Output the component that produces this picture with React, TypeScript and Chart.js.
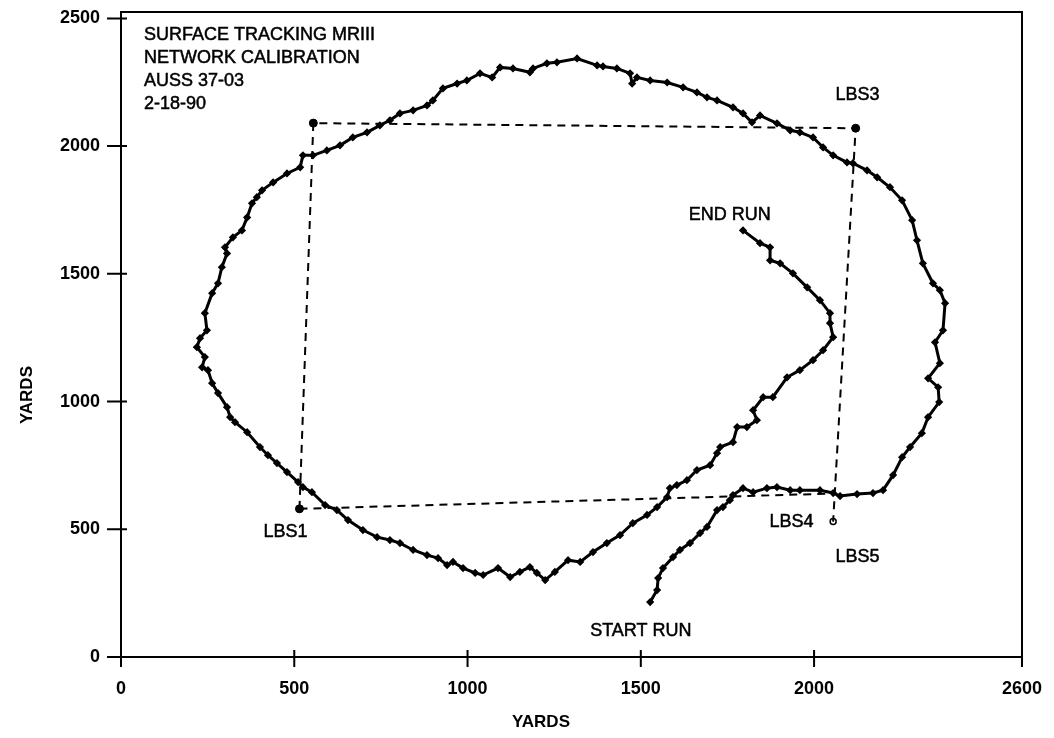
import React, { useEffect, useRef } from "react";
import { Chart, registerables } from "chart.js";

Chart.register(...registerables);

// Tracked vessel path (yards), from START RUN to END RUN
const trackX = [1527, 1547, 1550, 1564, 1593, 1613, 1642, 1671, 1691, 1720, 1737, 1757, 1766, 1795, 1824, 1864, 1893, 1931, 1959, 2017, 2055, 2075, 2124, 2170, 2199, 2228, 2254, 2277, 2311, 2329, 2361, 2358, 2329, 2363, 2349, 2372, 2378, 2363, 2343, 2314, 2297, 2283, 2254, 2219, 2182, 2153, 2112, 2095, 2055, 2026, 1997, 1959, 1931, 1893, 1844, 1821, 1795, 1766, 1720, 1691, 1662, 1622, 1576, 1527, 1489, 1475, 1469, 1431, 1391, 1374, 1316, 1258, 1229, 1189, 1180, 1131, 1094, 1071, 1036, 998, 970, 929, 900, 883, 843, 805, 776, 747, 710, 669, 632, 594, 554, 525, 517, 479, 439, 407, 392, 378, 364, 349, 323, 300, 306, 291, 280, 263, 242, 248, 228, 219, 242, 234, 251, 263, 280, 306, 315, 329, 364, 401, 424, 450, 479, 511, 525, 551, 589, 623, 655, 698, 739, 776, 805, 843, 883, 915, 941, 958, 987, 1022, 1045, 1088, 1123, 1151, 1180, 1200, 1224, 1252, 1290, 1325, 1362, 1402, 1440, 1477, 1518, 1547, 1576, 1584, 1604, 1633, 1662, 1700, 1720, 1729, 1766, 1778, 1806, 1835, 1824, 1853, 1881, 1922, 1959, 1997, 2026, 2055, 2046, 2046, 2017, 1980, 1939, 1902, 1873, 1873, 1844, 1795];
const trackY = [215, 262, 309, 348, 391, 419, 446, 485, 509, 575, 587, 614, 634, 661, 645, 661, 665, 653, 653, 653, 642, 630, 638, 642, 653, 712, 782, 822, 876, 939, 998, 1056, 1091, 1150, 1232, 1279, 1385, 1436, 1463, 1541, 1631, 1710, 1788, 1839, 1878, 1905, 1933, 1936, 1964, 1995, 2034, 2054, 2062, 2089, 2120, 2093, 2128, 2152, 2179, 2191, 2210, 2230, 2249, 2257, 2269, 2245, 2285, 2304, 2312, 2316, 2343, 2328, 2324, 2304, 2289, 2304, 2308, 2269, 2285, 2257, 2245, 2226, 2179, 2159, 2140, 2128, 2101, 2081, 2054, 2034, 2003, 1983, 1964, 1964, 1917, 1893, 1858, 1827, 1800, 1776, 1721, 1670, 1643, 1604, 1580, 1526, 1463, 1424, 1346, 1279, 1248, 1213, 1174, 1134, 1123, 1072, 1033, 978, 939, 919, 880, 822, 790, 759, 724, 685, 665, 645, 595, 575, 536, 497, 469, 458, 446, 419, 399, 387, 360, 372, 348, 329, 321, 348, 313, 333, 352, 329, 301, 333, 379, 372, 411, 446, 477, 524, 556, 587, 626, 661, 673, 692, 732, 751, 798, 822, 841, 900, 900, 927, 966, 1017, 1017, 1095, 1123, 1162, 1201, 1252, 1307, 1346, 1397, 1447, 1502, 1541, 1553, 1604, 1620, 1670];

// Calibration network (LBS1 -> LBS2 -> LBS3 -> LBS5) and LBS1 -> LBS4
const netX = [515, 555, 2120, 2055];
const netY = [580, 2090, 2070, 530];
const baseX = [515, 2058];
const baseY = [580, 640];
const dotX = [515, 555, 2120];
const dotY = [580, 2090, 2070];
const openX = [2055];
const openY = [530];

const labelTexts = ["LBS3", "LBS1", "LBS4", "LBS5", "END RUN", "START RUN"];
const labelX = [2125, 475, 1935, 2125, 1757, 1500];
const labelY = [2200, 490, 530, 390, 1730, 100];

const titleLines = ["SURFACE TRACKING MRIII", "NETWORK CALIBRATION", "AUSS 37-03", "2-18-90"];

const xTickValues = [0, 500, 1000, 1500, 2000, 2600];
const yTickValues = [0, 500, 1000, 1500, 2000, 2500];
const axisTitle = "YARDS";

const FONT = "'Liberation Sans', Arial, Helvetica, sans-serif";

function heavyText(ctx: CanvasRenderingContext2D, t: string, x: number, y: number) {
  ctx.fillText(t, x, y);
  ctx.strokeText(t, x, y);
}

const overlay = {
  id: "overlay",
  afterDraw(chart: any) {
    const { ctx, chartArea: a, scales } = chart;
    const x = scales.x;
    const y = scales.y;
    ctx.save();
    ctx.strokeStyle = "#000";
    ctx.lineWidth = 2;
    ctx.setLineDash([]);
    ctx.strokeRect(a.left, a.top, a.right - a.left, a.bottom - a.top);
    ctx.beginPath();
    xTickValues.forEach((v) => {
      const px = x.getPixelForValue(v);
      ctx.moveTo(px, a.bottom - 7);
      ctx.lineTo(px, a.bottom + 10);
    });
    yTickValues.forEach((v) => {
      const py = y.getPixelForValue(v);
      ctx.moveTo(a.left - 14, py);
      ctx.lineTo(a.left + 6, py);
    });
    ctx.stroke();

    ctx.fillStyle = "#000";
    ctx.lineWidth = 0.5;
    ctx.font = `18px ${FONT}`;
    ctx.textAlign = "center";
    ctx.textBaseline = "middle";
    labelTexts.forEach((t, i) => {
      heavyText(ctx, t, x.getPixelForValue(labelX[i]), y.getPixelForValue(labelY[i]));
    });

    ctx.textAlign = "left";
    titleLines.forEach((t, i) => {
      heavyText(ctx, t, a.left + 23, a.top + 23 + i * 23);
    });

    ctx.font = `bold 17px ${FONT}`;
    ctx.textAlign = "center";
    ctx.fillText(axisTitle, a.left + 420, 722);
    ctx.translate(27, 395);
    ctx.rotate(-Math.PI / 2);
    ctx.fillText(axisTitle, 0, 0);
    ctx.restore();
  },
};

export default function App() {
  const ref = useRef<HTMLCanvasElement | null>(null);
  useEffect(() => {
    if (!ref.current) return;
    const toPts = (xs: number[], ys: number[]) => xs.map((v, i) => ({ x: v, y: ys[i] }));
    const chart = new Chart(ref.current, {
      type: "scatter",
      data: {
        datasets: [
          {
            label: "network",
            data: toPts(netX, netY),
            showLine: true,
            borderColor: "#000",
            borderWidth: 2,
            borderDash: [8, 6],
            pointRadius: 0,
          },
          {
            label: "baseline",
            data: toPts(baseX, baseY),
            showLine: true,
            borderColor: "#000",
            borderWidth: 2,
            borderDash: [8, 6],
            pointRadius: 0,
          },
          {
            label: "track",
            data: toPts(trackX, trackY),
            showLine: true,
            borderColor: "#000",
            backgroundColor: "#000",
            borderWidth: 3,
            pointRadius: 2,
            pointStyle: "rectRot",
            tension: 0,
          },
          {
            label: "stations",
            data: toPts(dotX, dotY),
            pointRadius: 4,
            backgroundColor: "#000",
            borderColor: "#000",
          },
          {
            label: "LBS5",
            data: toPts(openX, openY),
            pointRadius: 3,
            backgroundColor: "#fff",
            borderColor: "#000",
            borderWidth: 1.5,
          },
        ],
      },
      options: {
        animation: false,
        responsive: true,
        maintainAspectRatio: false,
        layout: { padding: { left: 0, right: 32, top: 12, bottom: 0 } },
        plugins: { legend: { display: false }, tooltip: { enabled: false } },
        scales: {
          x: {
            type: "linear",
            min: 0,
            max: 2600,
            afterBuildTicks: (s: any) => {
              s.ticks = xTickValues.map((v) => ({ value: v }));
            },
            afterFit: (s: any) => {
              s.height = 81;
              s.paddingLeft = 0;
              s.paddingRight = 0;
            },
            grid: { display: false, drawTicks: false },
            border: { display: false },
            ticks: {
              padding: 21,
              color: "#000",
              font: { family: FONT, size: 18, weight: "bold" },
              maxRotation: 0,
              autoSkip: false,
              callback: (v: any) => String(v),
            },
          },
          y: {
            type: "linear",
            min: 0,
            max: 2525,
            afterBuildTicks: (s: any) => {
              s.ticks = yTickValues.map((v) => ({ value: v }));
            },
            afterFit: (s: any) => {
              s.width = 121;
              s.paddingTop = 0;
              s.paddingBottom = 0;
            },
            grid: { display: false, drawTicks: false },
            border: { display: false },
            ticks: {
              padding: 21,
              color: "#000",
              font: { family: FONT, size: 18, weight: "bold" },
              autoSkip: false,
              callback: (v: any) => String(v),
            },
          },
        },
      },
      plugins: [overlay],
    });
    return () => chart.destroy();
  }, []);
  return (
    <div style={{ position: "fixed", left: 0, top: 0, width: 1054, height: 738, background: "#fff" }}>
      <canvas ref={ref} />
    </div>
  );
}
